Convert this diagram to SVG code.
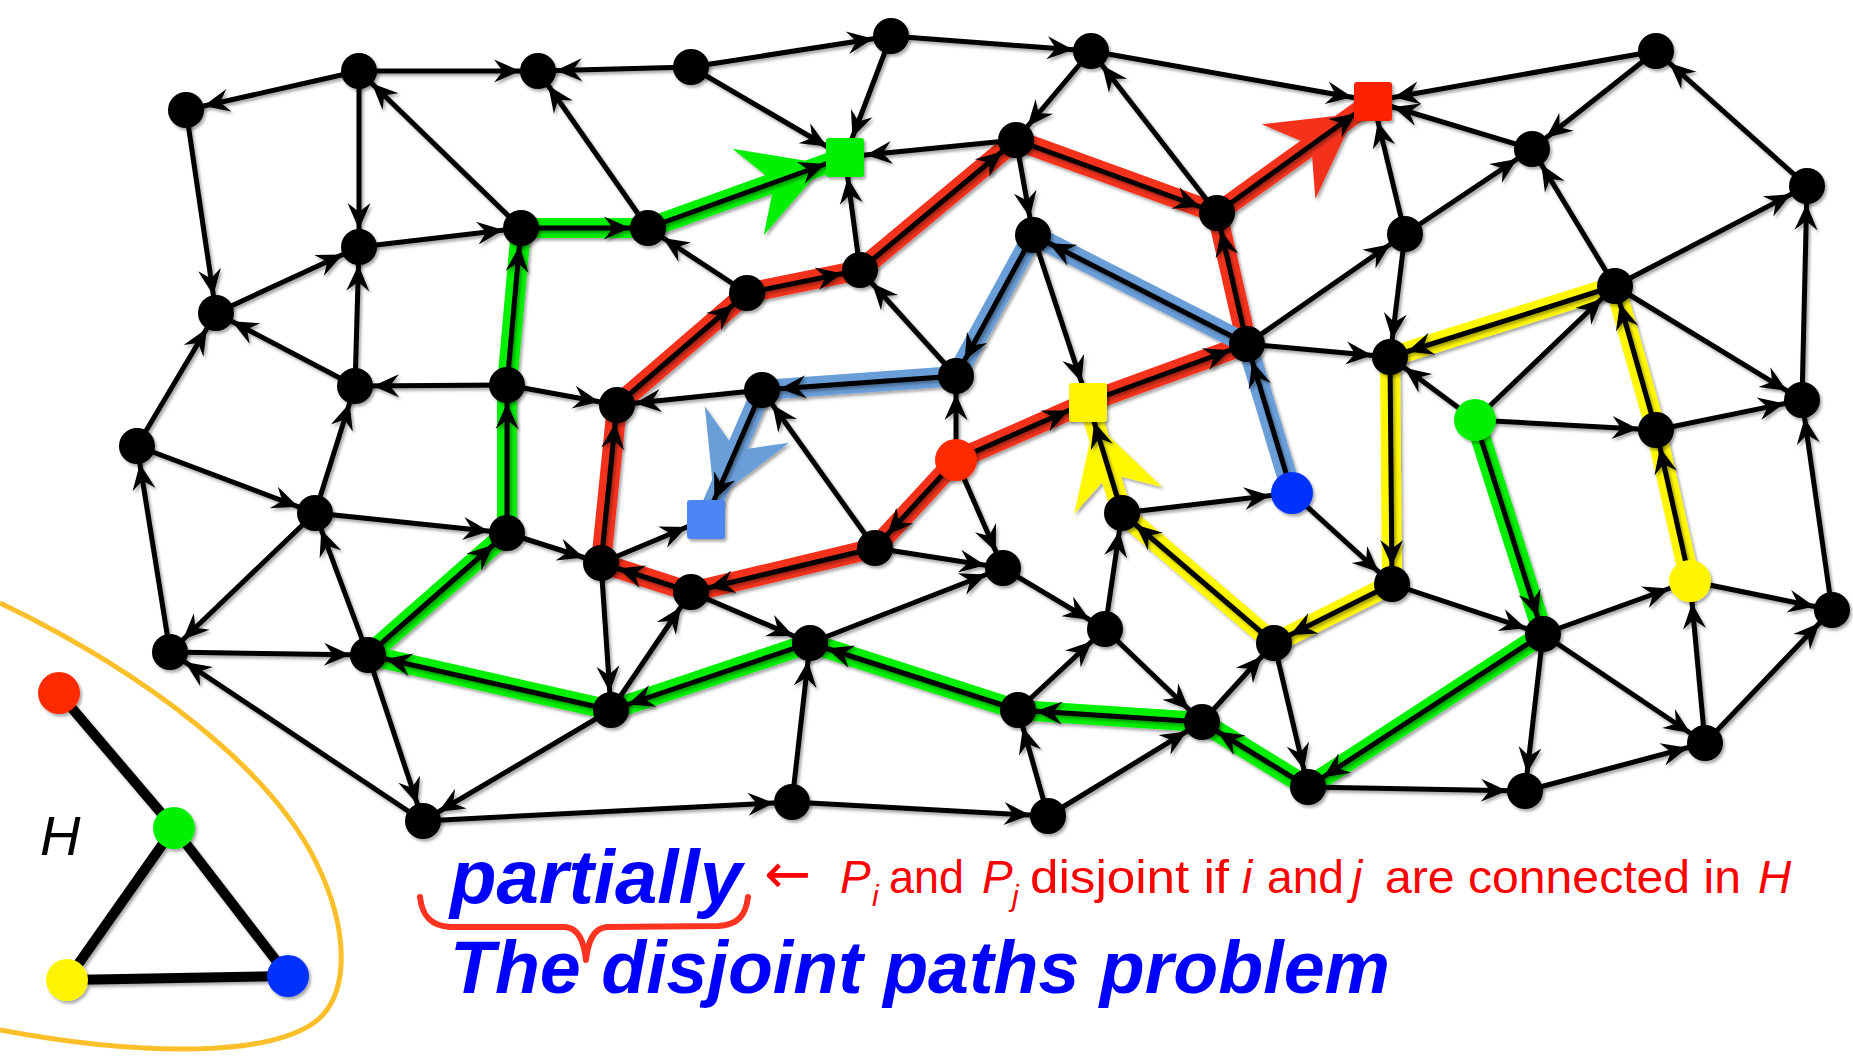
<svg xmlns="http://www.w3.org/2000/svg" width="1853" height="1058" viewBox="0 0 1853 1058">
<defs>
<style>
.e{stroke:#000;stroke-width:5;fill:none;marker-end:url(#a)}
.s{marker-end:url(#as)}
.c{marker-end:url(#ac)}
.band{fill:none;stroke-width:20;stroke-linejoin:round;stroke-linecap:round}
.bk{fill:#000}
.hl{stroke:#000;stroke-width:10;stroke-linecap:round}
</style>
<filter id="sh" x="-5%" y="-5%" width="110%" height="110%"><feDropShadow dx="2" dy="2.5" stdDeviation="1.8" flood-color="#000" flood-opacity="0.35"/></filter>
<marker id="a" markerUnits="userSpaceOnUse" orient="auto" refX="18" refY="0" markerWidth="1" markerHeight="1" overflow="visible"><path d="M0,0 L-26,-11.5 L-17,0 L-26,11.5 Z" fill="#000"/></marker>
<marker id="as" markerUnits="userSpaceOnUse" orient="auto" refX="21" refY="0" markerWidth="1" markerHeight="1" overflow="visible"><path d="M0,0 L-26,-11.5 L-17,0 L-26,11.5 Z" fill="#000"/></marker>
<marker id="ac" markerUnits="userSpaceOnUse" orient="auto" refX="22" refY="0" markerWidth="1" markerHeight="1" overflow="visible"><path d="M0,0 L-26,-11.5 L-17,0 L-26,11.5 Z" fill="#000"/></marker>
<marker id="bg" markerUnits="userSpaceOnUse" orient="auto" refX="21" refY="0" markerWidth="1" markerHeight="1" overflow="visible"><path d="M0,0 L-82,-46 L-54,0 L-82,46 Z" fill="#00F000"/></marker>
<marker id="br" markerUnits="userSpaceOnUse" orient="auto" refX="22" refY="0" markerWidth="1" markerHeight="1" overflow="visible"><path d="M0,0 L-82,-46 L-54,0 L-82,46 Z" fill="#F4321E"/></marker>
<marker id="bb" markerUnits="userSpaceOnUse" orient="auto" refX="21" refY="0" markerWidth="1" markerHeight="1" overflow="visible"><path d="M0,0 L-82,-46 L-54,0 L-82,46 Z" fill="#6A9ED9"/></marker>
<marker id="by" markerUnits="userSpaceOnUse" orient="auto" refX="21" refY="0" markerWidth="1" markerHeight="1" overflow="visible"><path d="M0,0 L-82,-46 L-54,0 L-82,46 Z" fill="#FFF800"/></marker>
</defs>
<rect width="1853" height="1058" fill="#fff"/>

<path d="M0,603 C150,675 270,770 315,860 C350,930 350,995 315,1022 C270,1055 150,1058 0,1030" fill="none" stroke="#FBBF2A" stroke-width="5"/>

<g id="paths" filter="url(#sh)">
<polyline class="band" stroke="#00F000" marker-end="url(#bg)" points="1475,420 1543,634 1308,787 1202,722 1018,710 810,643 611,710 368,655 507,533 507,385 521,228 648,228 845,157"/>
<polyline class="band" stroke="#F4321E" marker-end="url(#br)" points="956,460 875,548 691,592 601,563 617,405 747,293 860,270 1016,140 1217,213 1373,101"/>
<polyline class="band" stroke="#F4321E" points="956,460 1088,402 1247,344 1217,213"/>
<polyline class="band" stroke="#6A9ED9" marker-end="url(#bb)" points="1292,493 1247,344 1033,235 956,376 762,390 706,519"/>
<polyline class="band" stroke="#FFF800" marker-end="url(#by)" points="1690,581 1656,430 1615,286 1390,357 1392,584 1274,643 1122,513 1088,402"/>
</g>

<g id="connectors" filter="url(#sh)">
<line class="e" x1="359" y1="71" x2="186" y2="110"/>
<line class="e" x1="359" y1="71" x2="538" y2="71"/>
<line class="e" x1="691" y1="67" x2="538" y2="71"/>
<line class="e" x1="359" y1="71" x2="359" y2="247"/>
<line class="e" x1="186" y1="110" x2="216" y2="313"/>
<line class="e" x1="521" y1="228" x2="359" y2="71"/>
<line class="e" x1="648" y1="228" x2="538" y2="71"/>
<line class="e" x1="359" y1="247" x2="521" y2="228"/>
<line class="e" x1="216" y1="313" x2="359" y2="247"/>
<line class="e" x1="521" y1="228" x2="648" y2="228"/>
<line class="e" x1="355" y1="386" x2="359" y2="247"/>
<line class="e" x1="355" y1="386" x2="216" y2="313"/>
<line class="e" x1="137" y1="446" x2="216" y2="313"/>
<line class="e" x1="747" y1="293" x2="648" y2="228"/>
<line class="e" x1="691" y1="67" x2="891" y2="36"/>
<line class="e" x1="891" y1="36" x2="1091" y2="51"/>
<line class="e s" x1="1091" y1="51" x2="1373" y2="101"/>
<line class="e s" x1="691" y1="67" x2="845" y2="157"/>
<line class="e s" x1="891" y1="36" x2="845" y2="157"/>
<line class="e s" x1="1016" y1="140" x2="845" y2="157"/>
<line class="e s" x1="860" y1="270" x2="845" y2="157"/>
<line class="e s" x1="648" y1="228" x2="845" y2="157"/>
<line class="e" x1="1091" y1="51" x2="1016" y2="140"/>
<line class="e" x1="1217" y1="213" x2="1091" y2="51"/>
<line class="e" x1="1016" y1="140" x2="1217" y2="213"/>
<line class="e" x1="1016" y1="140" x2="1033" y2="235"/>
<line class="e" x1="747" y1="293" x2="860" y2="270"/>
<line class="e" x1="860" y1="270" x2="1016" y2="140"/>
<line class="e s" x1="1217" y1="213" x2="1373" y2="101"/>
<line class="e" x1="1247" y1="344" x2="1217" y2="213"/>
<line class="e" x1="1033" y1="235" x2="956" y2="376"/>
<line class="e" x1="1247" y1="344" x2="1033" y2="235"/>
<line class="e s" x1="1033" y1="235" x2="1088" y2="402"/>
<line class="e" x1="956" y1="376" x2="860" y2="270"/>
<line class="e s" x1="1656" y1="51" x2="1373" y2="101"/>
<line class="e s" x1="1532" y1="149" x2="1373" y2="101"/>
<line class="e s" x1="1405" y1="234" x2="1373" y2="101"/>
<line class="e" x1="1656" y1="51" x2="1532" y2="149"/>
<line class="e" x1="1807" y1="186" x2="1656" y2="51"/>
<line class="e" x1="1405" y1="234" x2="1532" y2="149"/>
<line class="e" x1="1615" y1="286" x2="1532" y2="149"/>
<line class="e" x1="1615" y1="286" x2="1807" y2="186"/>
<line class="e" x1="1802" y1="400" x2="1807" y2="186"/>
<line class="e" x1="1405" y1="234" x2="1390" y2="357"/>
<line class="e" x1="1247" y1="344" x2="1405" y2="234"/>
<line class="e" x1="1615" y1="286" x2="1390" y2="357"/>
<line class="e" x1="1475" y1="420" x2="1615" y2="286"/>
<line class="e" x1="1615" y1="286" x2="1802" y2="400"/>
<line class="e" x1="1247" y1="344" x2="1390" y2="357"/>
<line class="e" x1="507" y1="385" x2="355" y2="386"/>
<line class="e" x1="137" y1="446" x2="315" y2="513"/>
<line class="e" x1="315" y1="513" x2="355" y2="386"/>
<line class="e" x1="315" y1="513" x2="507" y2="533"/>
<line class="e" x1="315" y1="513" x2="170" y2="652"/>
<line class="e" x1="368" y1="655" x2="315" y2="513"/>
<line class="e" x1="170" y1="652" x2="137" y2="446"/>
<line class="e" x1="170" y1="652" x2="368" y2="655"/>
<line class="e" x1="368" y1="655" x2="507" y2="533"/>
<line class="e" x1="507" y1="533" x2="507" y2="385"/>
<line class="e" x1="507" y1="385" x2="521" y2="228"/>
<line class="e" x1="611" y1="710" x2="368" y2="655"/>
<line class="e" x1="507" y1="385" x2="617" y2="405"/>
<line class="e" x1="507" y1="533" x2="601" y2="563"/>
<line class="e" x1="601" y1="563" x2="617" y2="405"/>
<line class="e" x1="617" y1="405" x2="747" y2="293"/>
<line class="e" x1="762" y1="390" x2="617" y2="405"/>
<line class="e s" x1="601" y1="563" x2="706" y2="519"/>
<line class="e" x1="691" y1="592" x2="601" y2="563"/>
<line class="e" x1="601" y1="563" x2="611" y2="710"/>
<line class="e" x1="611" y1="710" x2="691" y2="592"/>
<line class="e" x1="423" y1="821" x2="170" y2="652"/>
<line class="e" x1="368" y1="655" x2="423" y2="821"/>
<line class="e" x1="956" y1="376" x2="762" y2="390"/>
<line class="e s" x1="762" y1="390" x2="706" y2="519"/>
<line class="e" x1="875" y1="548" x2="762" y2="390"/>
<line class="e" x1="956" y1="460" x2="956" y2="376"/>
<line class="e s" x1="956" y1="460" x2="1088" y2="402"/>
<line class="e" x1="1088" y1="402" x2="1247" y2="344"/>
<line class="e" x1="956" y1="460" x2="875" y2="548"/>
<line class="e" x1="875" y1="548" x2="691" y2="592"/>
<line class="e s" x1="1122" y1="513" x2="1088" y2="402"/>
<line class="e c" x1="1122" y1="513" x2="1292" y2="493"/>
<line class="e" x1="1105" y1="629" x2="1122" y2="513"/>
<line class="e" x1="1274" y1="643" x2="1122" y2="513"/>
<line class="e" x1="956" y1="460" x2="1003" y2="568"/>
<line class="e" x1="875" y1="548" x2="1003" y2="568"/>
<line class="e" x1="1003" y1="568" x2="1105" y2="629"/>
<line class="e" x1="810" y1="643" x2="1003" y2="568"/>
<line class="e" x1="691" y1="592" x2="810" y2="643"/>
<line class="e" x1="810" y1="643" x2="611" y2="710"/>
<line class="e" x1="1018" y1="710" x2="810" y2="643"/>
<line class="e" x1="1202" y1="722" x2="1018" y2="710"/>
<line class="e" x1="1105" y1="629" x2="1202" y2="722"/>
<line class="e" x1="1292" y1="493" x2="1247" y2="344"/>
<line class="e" x1="1390" y1="357" x2="1392" y2="584"/>
<line class="e" x1="1392" y1="584" x2="1274" y2="643"/>
<line class="e" x1="1475" y1="420" x2="1390" y2="357"/>
<line class="e" x1="1475" y1="420" x2="1656" y2="430"/>
<line class="e" x1="1475" y1="420" x2="1543" y2="634"/>
<line class="e" x1="1292" y1="493" x2="1392" y2="584"/>
<line class="e" x1="1392" y1="584" x2="1543" y2="634"/>
<line class="e" x1="1690" y1="581" x2="1656" y2="430"/>
<line class="e" x1="1656" y1="430" x2="1802" y2="400"/>
<line class="e" x1="1832" y1="610" x2="1802" y2="400"/>
<line class="e" x1="1690" y1="581" x2="1832" y2="610"/>
<line class="e c" x1="1543" y1="634" x2="1690" y2="581"/>
<line class="e c" x1="1705" y1="743" x2="1690" y2="581"/>
<line class="e" x1="1705" y1="743" x2="1832" y2="610"/>
<line class="e" x1="1202" y1="722" x2="1274" y2="643"/>
<line class="e" x1="1274" y1="643" x2="1308" y2="787"/>
<line class="e" x1="1308" y1="787" x2="1202" y2="722"/>
<line class="e" x1="1543" y1="634" x2="1308" y2="787"/>
<line class="e" x1="1308" y1="787" x2="1525" y2="791"/>
<line class="e" x1="1543" y1="634" x2="1525" y2="791"/>
<line class="e" x1="1543" y1="634" x2="1705" y2="743"/>
<line class="e" x1="1525" y1="791" x2="1705" y2="743"/>
<line class="e" x1="611" y1="710" x2="423" y2="821"/>
<line class="e" x1="423" y1="821" x2="792" y2="802"/>
<line class="e" x1="792" y1="802" x2="810" y2="643"/>
<line class="e" x1="792" y1="802" x2="1048" y2="816"/>
<line class="e" x1="1048" y1="816" x2="1018" y2="710"/>
<line class="e" x1="1048" y1="816" x2="1202" y2="722"/>
<line class="e" x1="1018" y1="710" x2="1105" y2="629"/>
<line class="e" x1="1656" y1="430" x2="1615" y2="286"/>
</g>

<g id="nodes" filter="url(#sh)">
<g id="n1"><circle class="bk" cx="186" cy="110" r="18"/></g>
<g id="n2"><circle class="bk" cx="359" cy="71" r="18"/></g>
<g id="n3"><circle class="bk" cx="538" cy="71" r="18"/></g>
<g id="n4"><circle class="bk" cx="691" cy="67" r="18"/></g>
<g id="n9"><circle class="bk" cx="891" cy="36" r="18"/></g>
<g id="n10"><circle class="bk" cx="1091" cy="51" r="18"/></g>
<g id="n17"><circle class="bk" cx="1656" cy="51" r="18"/></g>
<g id="n11"><circle class="bk" cx="1016" cy="140" r="18"/></g>
<g id="n18"><circle class="bk" cx="1532" cy="149" r="18"/></g>
<g id="n19"><circle class="bk" cx="1807" cy="186" r="18"/></g>
<g id="n5"><circle class="bk" cx="359" cy="247" r="18"/></g>
<g id="n6"><circle class="bk" cx="521" cy="228" r="18"/></g>
<g id="n7"><circle class="bk" cx="648" cy="228" r="18"/></g>
<g id="n12"><circle class="bk" cx="1217" cy="213" r="18"/></g>
<g id="n13"><circle class="bk" cx="1033" cy="235" r="18"/></g>
<g id="n20"><circle class="bk" cx="1405" cy="234" r="18"/></g>
<g id="n14"><circle class="bk" cx="860" cy="270" r="18"/></g>
<g id="n15"><circle class="bk" cx="747" cy="293" r="18"/></g>
<g id="n21"><circle class="bk" cx="1615" cy="286" r="18"/></g>
<g id="n8"><circle class="bk" cx="216" cy="313" r="18"/></g>
<g id="n16"><circle class="bk" cx="1247" cy="344" r="18"/></g>
<g id="n22"><circle class="bk" cx="1390" cy="357" r="18"/></g>
<g id="n23"><circle class="bk" cx="355" cy="386" r="18"/></g>
<g id="n24"><circle class="bk" cx="507" cy="385" r="18"/></g>
<g id="n25"><circle class="bk" cx="617" cy="405" r="18"/></g>
<g id="n35"><circle class="bk" cx="762" cy="390" r="18"/></g>
<g id="n36"><circle class="bk" cx="956" cy="376" r="18"/></g>
<g id="n47"><circle class="bk" cx="1802" cy="400" r="18"/></g>
<g id="n26"><circle class="bk" cx="137" cy="446" r="18"/></g>
<g id="n46"><circle class="bk" cx="1656" cy="430" r="18"/></g>
<g id="n37"><circle class="bk" cx="1122" cy="513" r="18"/></g>
<g id="n27"><circle class="bk" cx="315" cy="513" r="18"/></g>
<g id="n28"><circle class="bk" cx="507" cy="533" r="18"/></g>
<g id="n29"><circle class="bk" cx="601" cy="563" r="18"/></g>
<g id="n38"><circle class="bk" cx="875" cy="548" r="18"/></g>
<g id="n39"><circle class="bk" cx="1003" cy="568" r="18"/></g>
<g id="n30"><circle class="bk" cx="691" cy="592" r="18"/></g>
<g id="n48"><circle class="bk" cx="1392" cy="584" r="18"/></g>
<g id="n49"><circle class="bk" cx="1832" cy="610" r="18"/></g>
<g id="n40"><circle class="bk" cx="1105" cy="629" r="18"/></g>
<g id="n41"><circle class="bk" cx="1274" cy="643" r="18"/></g>
<g id="n42"><circle class="bk" cx="810" cy="643" r="18"/></g>
<g id="n50"><circle class="bk" cx="1543" cy="634" r="18"/></g>
<g id="n31"><circle class="bk" cx="170" cy="652" r="18"/></g>
<g id="n32"><circle class="bk" cx="368" cy="655" r="18"/></g>
<g id="n33"><circle class="bk" cx="611" cy="710" r="18"/></g>
<g id="n43"><circle class="bk" cx="1018" cy="710" r="18"/></g>
<g id="n44"><circle class="bk" cx="1202" cy="722" r="18"/></g>
<g id="n53"><circle class="bk" cx="1705" cy="743" r="18"/></g>
<g id="n51"><circle class="bk" cx="1308" cy="787" r="18"/></g>
<g id="n52"><circle class="bk" cx="1525" cy="791" r="18"/></g>
<g id="n54"><circle class="bk" cx="792" cy="802" r="18"/></g>
<g id="n55"><circle class="bk" cx="1048" cy="816" r="18"/></g>
<g id="n34"><circle class="bk" cx="423" cy="821" r="18"/></g>
<g id="red-start"><circle cx="956" cy="460" r="21" fill="#FF2A00"/></g>
<g id="green-start"><circle cx="1475" cy="420" r="21" fill="#00F000"/></g>
<g id="blue-start"><circle cx="1292" cy="493" r="21" fill="#0033FF"/></g>
<g id="yellow-start"><circle cx="1690" cy="581" r="21" fill="#FFF500"/></g>
<g id="green-end"><rect x="826" y="138" width="38" height="39" rx="3" fill="#00F000"/></g>
<g id="red-end"><rect x="1354" y="82" width="38" height="39" rx="3" fill="#FF2200"/></g>
<g id="yellow-end"><rect x="1069" y="383" width="38" height="39" rx="3" fill="#FFF500"/></g>
<g id="blue-end"><rect x="687" y="500" width="38" height="39" rx="3" fill="#4D85F5"/></g>
</g>

<g id="graph-H" filter="url(#sh)">
<line class="hl" x1="59" y1="693" x2="174" y2="828"/>
<line class="hl" x1="174" y1="828" x2="67" y2="980"/>
<line class="hl" x1="174" y1="828" x2="288" y2="976"/>
<line class="hl" x1="67" y1="980" x2="288" y2="976"/>
<g id="H-red"><circle cx="59" cy="693" r="21" fill="#FF2A00"/></g>
<g id="H-green"><circle cx="174" cy="828" r="21" fill="#00F000"/></g>
<g id="H-yellow"><circle cx="67" cy="980" r="21" fill="#FFF500"/></g>
<g id="H-blue"><circle cx="288" cy="976" r="21" fill="#0033FF"/></g>
</g>
<text x="40" y="855" font-family="Liberation Sans, Arial, sans-serif" font-style="italic" font-size="56" fill="#000">H</text>

<path d="M420,897 C422,915 430,926 450,927 L565,927 C578,928 584,940 586,960 C588,940 594,928 607,927 L718,926 C738,925 746,915 748,897" fill="none" stroke="#FF3322" stroke-width="6" stroke-linecap="round" stroke-linejoin="round"/>

<text x="450" y="903" font-family="Liberation Sans, Arial, sans-serif" font-weight="bold" font-style="italic" font-size="76" fill="#0000FF" textLength="292" lengthAdjust="spacingAndGlyphs">partially</text>
<text x="450" y="993" font-family="Liberation Sans, Arial, sans-serif" font-weight="bold" font-style="italic" font-size="74" fill="#0000FF" textLength="940" lengthAdjust="spacingAndGlyphs">The disjoint paths problem</text>

<text font-family="Liberation Sans, Arial, sans-serif" font-size="46" fill="#FF0000"><tspan x="764" y="893" font-family="DejaVu Sans, sans-serif" font-size="56">←</tspan><tspan x="840" y="893" font-style="italic">P</tspan><tspan x="872" y="906" font-style="italic" font-size="30">i</tspan><tspan x="889" y="893" textLength="75" lengthAdjust="spacingAndGlyphs">and</tspan><tspan x="982" y="893" font-style="italic">P</tspan><tspan x="1012" y="906" font-style="italic" font-size="30">j</tspan><tspan x="1030" y="893" textLength="199" lengthAdjust="spacingAndGlyphs">disjoint if</tspan><tspan x="1242" y="893" font-style="italic">i</tspan><tspan x="1267" y="893" textLength="77" lengthAdjust="spacingAndGlyphs">and</tspan><tspan x="1352" y="893" font-style="italic">j</tspan><tspan x="1385" y="893" textLength="356" lengthAdjust="spacingAndGlyphs">are connected in</tspan><tspan x="1758" y="893" font-style="italic">H</tspan></text>
</svg>
